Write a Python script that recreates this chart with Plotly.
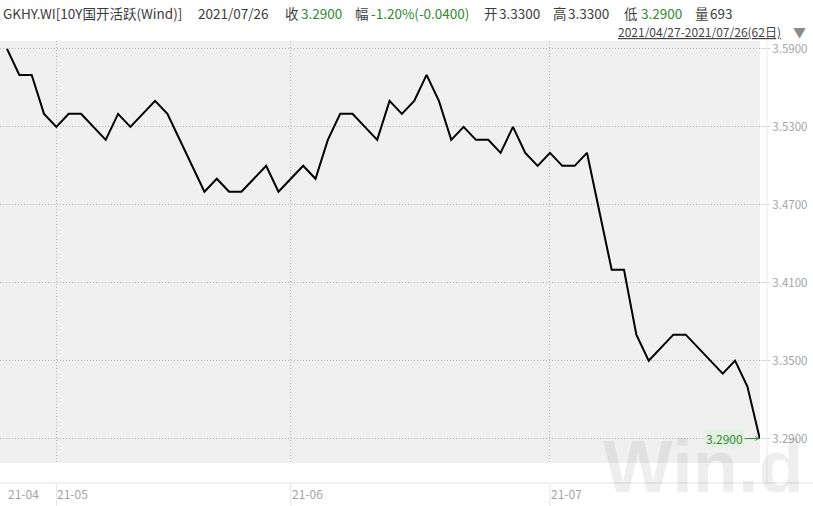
import plotly.graph_objects as go

# ---- data ----
dates = [
    "2021-04-27", "2021-04-28", "2021-04-29", "2021-04-30",
    "2021-05-06", "2021-05-07", "2021-05-08",
    "2021-05-10", "2021-05-11", "2021-05-12", "2021-05-13", "2021-05-14",
    "2021-05-17", "2021-05-18", "2021-05-19", "2021-05-20", "2021-05-21",
    "2021-05-24", "2021-05-25", "2021-05-26", "2021-05-27", "2021-05-28",
    "2021-05-31",
    "2021-06-01", "2021-06-02", "2021-06-03", "2021-06-04",
    "2021-06-07", "2021-06-08", "2021-06-09", "2021-06-10", "2021-06-11",
    "2021-06-15", "2021-06-16", "2021-06-17", "2021-06-18",
    "2021-06-21", "2021-06-22", "2021-06-23", "2021-06-24", "2021-06-25",
    "2021-06-28", "2021-06-29", "2021-06-30",
    "2021-07-01", "2021-07-02",
    "2021-07-05", "2021-07-06", "2021-07-07", "2021-07-08", "2021-07-09",
    "2021-07-12", "2021-07-13", "2021-07-14", "2021-07-15", "2021-07-16",
    "2021-07-19", "2021-07-20", "2021-07-21", "2021-07-22", "2021-07-23",
    "2021-07-26",
]
closes = [
    3.59, 3.57, 3.57, 3.54,
    3.53, 3.54, 3.54,
    3.53, 3.52, 3.54, 3.53, 3.54,
    3.55, 3.54, 3.52, 3.50, 3.48,
    3.49, 3.48, 3.48, 3.49, 3.50,
    3.48,
    3.49, 3.50, 3.49, 3.52,
    3.54, 3.54, 3.53, 3.52, 3.55,
    3.54, 3.55, 3.57, 3.55,
    3.52, 3.53, 3.52, 3.52, 3.51,
    3.53, 3.51, 3.50,
    3.51, 3.50,
    3.50, 3.51, 3.465, 3.42, 3.42,
    3.37, 3.35, 3.36, 3.37, 3.37,
    3.36, 3.35, 3.34, 3.35, 3.33,
    3.29,
]
y_ticks = [3.29, 3.35, 3.41, 3.47, 3.53, 3.59]
month_starts = ["2021-04-27", "2021-05-06", "2021-06-01", "2021-07-01"]
month_labels = ["21-04", "21-05", "21-06", "21-07"]

header_title = "GKHY.WI[10Y国开活跃(Wind)]"
header_date = "2021/07/26"
open_v, high_v, low_v = 3.33, 3.33, 3.29
change_pct, change_abs = -1.20, -0.0400
volume = 693
range_text = "2021/04/27-2021/07/26(62日)"

# ---- layout constants ----
W, H = 813, 506
ML, MR, MT, MB = 0, 53, 41, 43
PW = W - ML - MR
PH = H - MT - MB
DARK = "#3c3c3c"
GREEN = "#2f8a2f"
GREYTXT = "#a3a3a3"
GRID = "#b4b4b4"
FONT = "Noto Sans CJK SC, Noto Sans, sans-serif"


def px_x(px):
    return (px - ML) / PW


def px_y(py):
    return (H - MB - py) / PH


fig = go.Figure()
fig.add_trace(go.Scatter(
    x=dates, y=closes, mode="lines",
    line=dict(color="#000000", width=2),
    hoverinfo="x+y", showlegend=False,
))

annotations = []

# watermark
annotations.append(dict(
    xref="paper", yref="paper", x=px_x(703), y=px_y(466),
    text="<b>Win.d</b>", showarrow=False, xanchor="center", yanchor="middle",
    font=dict(family="Liberation Sans, Arial, sans-serif", size=74,
              color="rgba(0,0,0,0.065)"),
))

# last value label with arrow
annotations.append(dict(
    x=dates[-1], y=closes[-1], xref="x", yref="y",
    text=f"{closes[-1]:.4f}", showarrow=True, ax=-35, ay=0,
    arrowhead=3, arrowsize=0.9, arrowwidth=1, arrowcolor=GREEN, standoff=0,
    font=dict(family=FONT, size=12, color=GREEN),
    bgcolor="rgba(210,245,210,0.3)",
))

# x month labels
for d, lab in zip(month_starts, month_labels):
    annotations.append(dict(
        x=d, y=px_y(493), xref="x", yref="paper", text=lab,
        showarrow=False, xanchor="left", yanchor="middle", xshift=-1,
        font=dict(family=FONT, size=12, color=GREYTXT),
    ))

# header
seg = [
    (1, header_title, DARK),
    (196, header_date, DARK),
    (283, "收", DARK),
    (299, f"{closes[-1]:.4f}", GREEN),
    (353, "幅", DARK),
    (369, f"{change_pct:.2f}%({change_abs:.4f})", GREEN),
    (482, "开", DARK),
    (497, f"{open_v:.4f}", DARK),
    (551, "高", DARK),
    (566, f"{high_v:.4f}", DARK),
    (622, "低", DARK),
    (639, f"{low_v:.4f}", GREEN),
    (693, "量", DARK),
    (708, f"{volume}", DARK),
]
for x0, t, c in seg:
    annotations.append(dict(
        xref="paper", yref="paper", x=px_x(x0), y=px_y(13), text=t,
        showarrow=False, xanchor="left", yanchor="middle",
        font=dict(family=FONT, size=13.5, color=c),
    ))
annotations.append(dict(
    xref="paper", yref="paper", x=px_x(616), y=px_y(31),
    text=f'<span style="text-decoration:underline">{range_text}</span>',
    showarrow=False, xanchor="left", yanchor="middle",
    font=dict(family=FONT, size=12, color="#444444"),
))
annotations.append(dict(
    xref="paper", yref="paper", x=px_x(791), y=px_y(31), text="▼",
    showarrow=False, xanchor="left", yanchor="middle",
    font=dict(family=FONT, size=13, color="#8a8a8a"),
))

shapes = []
# horizontal separator above x labels
shapes.append(dict(type="line", xref="paper", yref="paper",
                   x0=px_x(0), x1=px_x(W), y0=px_y(483), y1=px_y(483),
                   line=dict(color="#e3e3e3", width=1)))
# right vertical separator
shapes.append(dict(type="line", xref="paper", yref="paper",
                   x0=px_x(767), x1=px_x(767), y0=px_y(41), y1=px_y(483),
                   line=dict(color="#ececec", width=1)))
# month separators in label strip
for d in month_starts[1:]:
    shapes.append(dict(type="line", xref="x", yref="paper",
                       x0=d, x1=d, y0=px_y(484), y1=px_y(506),
                       line=dict(color="#e3e3e3", width=1)))

fig.update_layout(
    width=W, height=H,
    margin=dict(l=ML, r=MR, t=MT, b=MB, pad=0),
    paper_bgcolor="#ffffff",
    plot_bgcolor="#f0f0f0",
    font=dict(family=FONT, color=GREYTXT),
    showlegend=False,
    annotations=annotations,
    shapes=shapes,
    xaxis=dict(
        type="category", range=[-0.567, len(dates) - 1 + 0.02],
        tickmode="array", tickvals=month_starts[1:], showticklabels=False,
        showgrid=True, gridcolor=GRID, griddash="1px,2px", gridwidth=1,
        zeroline=False, showline=False, ticks="",
    ),
    yaxis=dict(
        side="right", range=[3.2712, 3.5961],
        tickmode="array", tickvals=y_ticks,
        ticktext=[f"{v:.4f}" for v in y_ticks],
        showgrid=True, gridcolor=GRID, griddash="1px,2px", gridwidth=1,
        ticks="outside", ticklen=9, tickcolor="#d8d8d8", tickwidth=1,
        tickfont=dict(family=FONT, size=11.5, color=GREYTXT),
        zeroline=False, showline=False,
    ),
)

fig.write_html(
    "out.html",
    config={"displayModeBar": False},
    post_script="document.body.style.margin='0px';document.body.style.overflow='hidden';",
)
